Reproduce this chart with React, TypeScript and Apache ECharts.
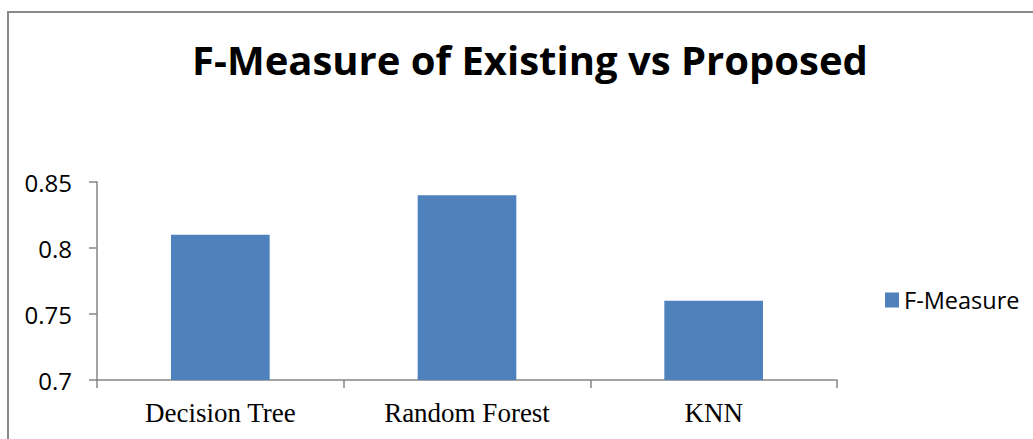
import React, { useEffect, useRef } from "react";
import * as echarts from "echarts";

const titleText = "F-Measure of Existing vs Proposed";
const categories = ["Decision Tree", "Random Forest", "KNN"];
const seriesName = "F-Measure";
const fMeasure = [0.81, 0.84, 0.76];
const yMin = 0.7;
const yMax = 0.85;
const yStep = 0.05;

export default function App() {
  const ref = useRef<HTMLDivElement>(null);

  useEffect(() => {
    if (!ref.current) return;
    const chart = echarts.init(ref.current, null, { renderer: "svg" });
    const axisGray = "#868686";
    chart.setOption({
      animation: false,
      backgroundColor: "#ffffff",
      title: {
        text: titleText,
        left: 525,
        textAlign: "center",
        top: 34,
        textStyle: {
          fontFamily: "Open Sans",
          fontWeight: "bold",
          fontSize: 40,
          color: "#000000",
        },
      },
      legend: {
        data: [seriesName],
        left: 880,
        top: 283,
        itemWidth: 14,
        itemHeight: 15,
        itemGap: 8,
        icon: "rect",
        textStyle: { fontFamily: "Open Sans", fontSize: 23.5, color: "#000000" },
      },
      grid: { left: 97, right: 196, top: 182, bottom: 59, containLabel: false },
      xAxis: {
        type: "category",
        data: categories,
        axisLine: { lineStyle: { color: axisGray, width: 1.5 } },
        axisTick: { show: true, length: 8, lineStyle: { color: axisGray, width: 1.5 } },
        axisLabel: {
          margin: 19,
          fontFamily: "Liberation Serif",
          fontSize: 27,
          color: "#000000",
        },
      },
      yAxis: {
        type: "value",
        min: yMin,
        max: yMax,
        interval: yStep,
        axisLine: { show: true, lineStyle: { color: axisGray, width: 1.5 } },
        axisTick: { show: true, length: 8, lineStyle: { color: axisGray, width: 1.5 } },
        splitLine: { show: false },
        axisLabel: {
          margin: 25,
          fontFamily: "Open Sans",
          fontSize: 24,
          color: "#000000",
          formatter: (v: number) => String(parseFloat(v.toFixed(2))),
        },
      },
      series: [
        {
          name: seriesName,
          type: "bar",
          data: fMeasure,
          barCategoryGap: "60%",
          itemStyle: { color: "#4F81BD" },
        },
      ],
      graphic: [
        {
          type: "rect",
          shape: { x: 8, y: 12, width: 1200, height: 600 },
          style: { fill: "none", stroke: "#898989", lineWidth: 2 },
          silent: true,
        },
      ],
    });
    return () => chart.dispose();
  }, []);

  return (
    <div
      ref={ref}
      style={{ position: "fixed", left: 0, top: 0, width: 1033, height: 439 }}
    />
  );
}
